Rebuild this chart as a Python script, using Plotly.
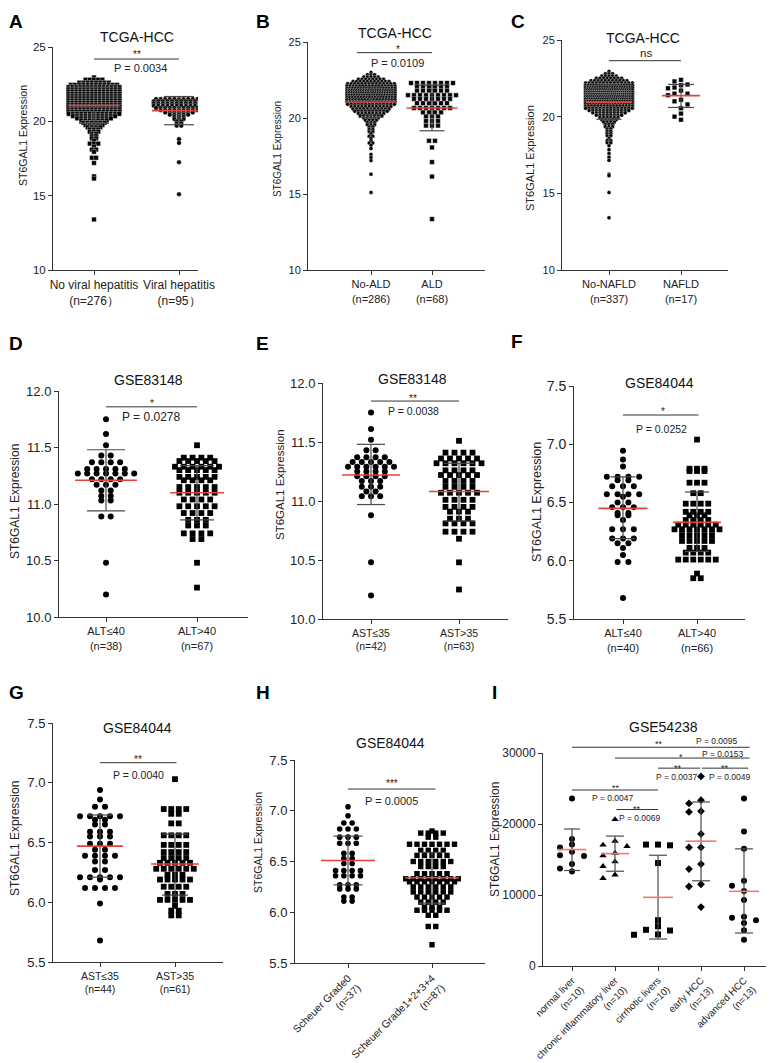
import plotly.graph_objects as go

# Reference canvas is 774x1063; the page adds an 8px body margin, so the figure is
# drawn 8px smaller on each axis and all pixel specs below are shifted by that offset.
W, H = 774, 1063
OX, OY = 8, 8
FW, FH = W - OX, H - OY
FONT = "Liberation Sans, Arial, Helvetica, sans-serif"

# ======================= DATA =======================
# A  TCGA-HCC : viral hepatitis
A_title = "TCGA-HCC"
A_labels = ["No viral hepatitis<br>(n=276）", "Viral hepatitis<br>(n=95）"]
A_g1_levels = [22.95, 22.8, 22.6, 22.45, 22.3, 22.15, 22.0, 21.85, 21.7, 21.55, 21.4, 21.25, 21.1,
               20.95, 20.8, 20.65, 20.5, 20.35, 20.2, 20.05, 19.9, 19.75, 19.6, 19.45, 19.3, 19.15,
               19.0, 18.85, 18.7, 18.5, 18.3, 18.1, 17.95, 17.55, 17.2, 16.3, 16.15, 13.4]
A_g1_counts = [1, 5, 8, 12, 14, 14, 14, 14, 14, 14, 14, 14, 14,
               15, 14, 14, 13, 11, 9, 7, 6, 5, 4, 3, 3, 2,
               2, 2, 1, 3, 1, 2, 1, 2, 1, 1, 1, 1]
A_g2_levels = [21.5, 21.35, 21.2, 21.05, 20.9, 20.75, 20.6, 20.45, 20.3, 20.15, 20.0, 19.85, 19.7,
               18.8, 18.55, 17.25, 15.1]
A_g2_counts = [11, 12, 12, 12, 11, 9, 7, 5, 3, 3, 2, 2, 2, 1, 1, 1, 1]
A_mean = [21.07, 20.72]
A_sd_low = [19.87, 19.77]
A_sd_high = [22.27, 21.67]
A_sig = [("**", "P = 0.0034")]

# B  TCGA-HCC : ALD
B_title = "TCGA-HCC"
B_labels = ["No-ALD<br>(n=286)", "ALD<br>(n=68)"]
B_g1_levels = [23.0, 22.85, 22.7, 22.55, 22.4, 22.25, 22.1, 21.95, 21.8, 21.65, 21.5, 21.35, 21.2,
               21.05, 20.9, 20.75, 20.6, 20.45, 20.3, 20.15, 20.0, 19.85, 19.7, 19.55, 19.4, 19.25,
               19.1, 18.95, 18.8, 18.65, 18.5, 18.35, 18.2, 18.0, 17.6, 17.4, 17.2, 16.3, 15.1]
B_g1_counts = [1, 3, 5, 8, 11, 14, 16, 18, 21, 21, 20, 18, 17,
               16, 14, 12, 11, 10, 8, 7, 5, 4, 3, 3, 2, 2,
               2, 1, 2, 1, 1, 2, 1, 1, 1, 1, 1, 1, 1]
B_g2_levels = [22.3, 22.07, 21.8, 21.5, 21.25, 20.97, 20.66, 20.37, 20.1, 19.8, 19.5, 18.5, 18.06,
               17.1, 16.15, 13.35]
B_g2_counts = [8, 6, 6, 9, 7, 6, 7, 4, 3, 3, 3, 2, 1, 1, 1, 1]
B_mean = [21.05, 20.66]
B_sd_low = [20.05, 19.16]
B_sd_high = [22.05, 22.16]
B_sig = [("*", "P = 0.0109")]

# C  TCGA-HCC : NAFLD
C_title = "TCGA-HCC"
C_labels = ["No-NAFLD<br>(n=337)", "NAFLD<br>(n=17)"]
C_g1_levels = [22.95, 22.8, 22.65, 22.5, 22.35, 22.2, 22.05, 21.9, 21.75, 21.6, 21.45, 21.3, 21.15,
               21.0, 20.85, 20.7, 20.55, 20.4, 20.25, 20.1, 19.95, 19.8, 19.65, 19.5, 19.35, 19.2,
               19.05, 18.9, 18.75, 18.6, 18.45, 18.3, 18.1, 17.85, 17.6, 17.35, 17.15, 16.25, 16.15,
               15.05, 13.4]
C_g1_counts = [1, 3, 5, 8, 11, 14, 18, 20, 23, 24, 24, 23, 22,
               20, 18, 16, 14, 12, 10, 8, 6, 5, 4, 3, 3, 2,
               2, 2, 2, 1, 2, 2, 1, 1, 1, 1, 1, 1, 1,
               1, 1]
C_g2_values = [22.4, 22.3, 22.1, 22.05, 21.9, 21.85, 21.7, 21.5, 21.5, 21.4, 21.1, 21.0, 20.8,
               20.55, 20.2, 20.0, 19.8]
C_mean = [20.95, 21.37]
C_sd_low = [19.83, 20.6]
C_sd_high = [22.07, 22.1]
C_sig = [("ns", "")]

# D  GSE83148 : ALT
D_title = "GSE83148"
D_labels = ["ALT≤40<br>(n=38)", "ALT>40<br>(n=67)"]
D_g1_levels = [11.75, 11.62, 11.52, 11.43, 11.37, 11.31, 11.27, 11.22, 11.17, 11.12, 11.07, 11.03,
               10.89, 10.48, 10.20]
D_g1_counts = [1, 1, 1, 2, 4, 5, 7, 4, 3, 2, 2, 2, 2, 1, 1]
D_g2_levels = [11.52, 11.41, 11.38, 11.33, 11.30, 11.24, 11.21, 11.15, 11.10, 11.04, 10.98, 10.92,
               10.86, 10.81, 10.74, 10.69, 10.48, 10.26]
D_g2_counts = [1, 4, 5, 6, 5, 5, 4, 5, 5, 4, 5, 4, 3, 3, 4, 2, 1, 1]
D_mean = [11.21, 11.10]
D_sd_low = [10.94, 10.86]
D_sd_high = [11.48, 11.34]
D_sig = [("*", "P = 0.0278")]

# E  GSE83148 : AST
E_title = "GSE83148"
E_labels = ["AST≤35<br>(n=42)", "AST>35<br>(n=63)"]
E_g1_levels = [11.75, 11.61, 11.52, 11.43, 11.37, 11.33, 11.29, 11.25, 11.21, 11.17, 11.12, 11.08,
               11.04, 10.88, 10.48, 10.20]
E_g1_counts = [1, 1, 1, 2, 4, 5, 6, 4, 4, 3, 3, 2, 3, 1, 1, 1]
E_g2_levels = [11.51, 11.41, 11.36, 11.32, 11.26, 11.22, 11.17, 11.12, 11.07, 11.01, 10.95, 10.91,
               10.85, 10.81, 10.74, 10.68, 10.48, 10.25]
E_g2_counts = [1, 4, 5, 6, 4, 5, 4, 4, 5, 4, 4, 3, 3, 4, 4, 1, 1, 1]
E_mean = [11.22, 11.08]
E_sd_low = [10.97, 10.83]
E_sd_high = [11.48, 11.32]
E_sig = [("**", "P = 0.0038")]

# F  GSE84044 : ALT
F_title = "GSE84044"
F_labels = ["ALT≤40<br>(n=40)", "ALT>40<br>(n=66)"]
F_g1_levels = [6.945, 6.87, 6.81, 6.72, 6.69, 6.64, 6.57, 6.55, 6.50, 6.46, 6.41, 6.39, 6.35, 6.27,
               6.19, 6.15, 6.11, 6.05, 5.99, 5.68]
F_g1_counts = [1, 1, 1, 4, 2, 3, 4, 1, 2, 3, 2, 2, 1, 3, 3, 2, 1, 1, 2, 1]
F_g2_levels = [7.04, 6.79, 6.77, 6.67, 6.58, 6.49, 6.42, 6.39, 6.35, 6.31, 6.27, 6.22, 6.17, 6.11,
               6.07, 6.01, 5.89, 5.85]
F_g2_counts = [1, 3, 3, 3, 2, 4, 4, 3, 4, 6, 7, 5, 5, 3, 4, 6, 1, 2]
F_mean = [6.45, 6.33]
F_sd_low = [6.19, 6.08]
F_sd_high = [6.72, 6.59]
F_sig = [("*", "P = 0.0252")]

# G  GSE84044 : AST
G_title = "GSE84044"
G_labels = ["AST≤35<br>(n=44)", "AST>35<br>(n=61)"]
G_g1_levels = [6.94, 6.86, 6.80, 6.72, 6.69, 6.65, 6.59, 6.55, 6.49, 6.44, 6.39, 6.34, 6.27, 6.21,
               6.19, 6.12, 5.99, 5.68]
G_g1_counts = [1, 1, 2, 5, 2, 2, 3, 3, 3, 2, 4, 2, 2, 5, 1, 4, 1, 1]
G_g2_levels = [7.03, 6.78, 6.74, 6.66, 6.56, 6.48, 6.42, 6.37, 6.33, 6.28, 6.23, 6.19, 6.13, 6.07,
               6.02, 5.97, 5.93, 5.89]
G_g2_counts = [1, 4, 2, 2, 4, 4, 4, 4, 5, 6, 3, 5, 4, 3, 5, 1, 2, 2]
G_mean = [6.47, 6.32]
G_sd_low = [6.21, 6.06]
G_sd_high = [6.73, 6.57]
G_sig = [("**", "P = 0.0040")]

# H  GSE84044 : Scheuer grade
H_title = "GSE84044"
H_labels = ["Scheuer Grade0<br>(n=37)", "Scheuer Grade1+2+3+4<br>(n=87)"]
H_g1_levels = [7.04, 6.95, 6.88, 6.82, 6.74, 6.68, 6.58, 6.53, 6.48, 6.41, 6.36, 6.27, 6.23, 6.15,
               6.11]
H_g1_counts = [1, 1, 2, 3, 3, 3, 2, 2, 2, 4, 4, 3, 3, 2, 2]
H_g2_levels = [6.80, 6.78, 6.74, 6.67, 6.61, 6.56, 6.50, 6.45, 6.38, 6.33, 6.30, 6.25, 6.20, 6.15,
               6.10, 6.05, 6.02, 5.97, 5.86, 5.68]
H_g2_counts = [1, 4, 2, 7, 4, 5, 6, 4, 5, 8, 7, 6, 6, 5, 4, 3, 5, 2, 2, 1]
H_mean = [6.51, 6.34]
H_sd_low = [6.27, 6.09]
H_sd_high = [6.75, 6.59]
H_sig = [("***", "P = 0.0005")]

# I  GSE54238 : disease stages
I_title = "GSE54238"
I_labels = ["normal liver<br>(n=10)", "chronic inflammatory liver<br>(n=10)",
            "cirrhotic livers<br>(n=10)", "early HCC<br>(n=13)", "advanced HCC<br>(n=13)"]
I_normal = [23600, 17900, 17100, 16700, 16100, 15600, 15500, 14350, 13750, 13300]
I_chronic = [20650, 17600, 17050, 16850, 15900, 15550, 14700, 14050, 12850, 12350]
I_cirrhotic = [17100, 17100, 17000, 14500, 6450, 5600, 5100, 5000, 4450, 4400]
I_early = [26700, 23350, 22900, 21800, 21700, 18600, 16700, 16700, 14350, 13650, 11500, 11200, 8300]
I_advanced = [23600, 18950, 16500, 12000, 11300, 10570, 9290, 6920, 6780, 6450, 6070, 5020, 3700]
I_mean = [16400, 15830, 9670, 17580, 10520]
I_sd_low = [13450, 13350, 3800, 12000, 4650]
I_sd_high = [19300, 18300, 15600, 23100, 16500]
I_sig = [("**", "P = 0.0095"), ("*", "P = 0.0153"), ("**", "P = 0.0037"), ("**", "P = 0.0049"),
         ("**", "P = 0.0047"), ("**", "P = 0.0069")]

Y_TITLE = "ST6GAL1 Expression"

# ======================= STYLE / LAYOUT (pixel specs in reference coordinates) =======================
panels = [
    dict(key="A", title=A_title, labels=A_labels,
         groups=[("rows", A_g1_levels, A_g1_counts), ("rows", A_g2_levels, A_g2_counts)],
         mean=A_mean, lo=A_sd_low, hi=A_sd_high, sig=A_sig,
         L=53, R=198, T=47, B=270, cats=[94, 179], yr=(10, 25), yt=[10, 15, 20, 25], yfmt="{:.0f}",
         sym=["square", "circle"], ms=[4.6, 4.6], step=[4.2, 4.6], half=[25.5, 26.5], outline=True,
         mhw=[25.5, 27], chw=[15, 15], tickfs=11.5, labfs=12, ytfs=10.5, titlexy=(137, 37),
         ytitlexy=(23, 136), letter=("A", 2, 21), angle=0,
         sigpos=[(0, 1, 24.19, 0.5, 5, 0.55, -8.5)], starfs=10, pfs=11),
    dict(key="B", title=B_title, labels=B_labels,
         groups=[("rows", B_g1_levels, B_g1_counts), ("rows", B_g2_levels, B_g2_counts)],
         mean=B_mean, lo=B_sd_low, hi=B_sd_high, sig=B_sig,
         L=308, R=485, T=42, B=270, cats=[371, 432], yr=(10, 25), yt=[10, 15, 20, 25], yfmt="{:.0f}",
         sym=["circle", "square"], ms=[4.0, 4.6], step=[3.6, 6.0], half=[24, 25], outline=True,
         mhw=[25, 25.5], chw=[12.5, 12.5], tickfs=11, labfs=11, ytfs=10, titlexy=(395, 33),
         ytitlexy=(278, 149), letter=("B", 255, 21), angle=0,
         sigpos=[(-0.23, 1, 24.3, 0.44, 3, 0.44, -10)], starfs=10, pfs=11),
    dict(key="C", title=C_title, labels=C_labels,
         groups=[("rows", C_g1_levels, C_g1_counts), ("swarm", C_g2_values)],
         mean=C_mean, lo=C_sd_low, hi=C_sd_high, sig=C_sig,
         L=562, R=728, T=40, B=270, cats=[609, 681], yr=(10, 25), yt=[10, 15, 20, 25], yfmt="{:.0f}",
         sym=["circle", "square"], ms=[4.0, 4.6], step=[3.6, 6.0], half=[23.5, 14], outline=True,
         swarm_d=6.5, swarm_r=5.0,
         mhw=[23, 19], chw=[12.5, 13], tickfs=11, labfs=11, ytfs=11, titlexy=(643, 38),
         ytitlexy=(530, 158), letter=("C", 510, 21), angle=0,
         sigpos=[(0, 1, 23.65, 0.52, 8, 0.52, 0)], starfs=11.5, pfs=11),
    dict(key="D", title=D_title, labels=D_labels,
         groups=[("rows", D_g1_levels, D_g1_counts), ("rows", D_g2_levels, D_g2_counts)],
         mean=D_mean, lo=D_sd_low, hi=D_sd_high, sig=D_sig,
         L=59, R=248, T=391, B=617, cats=[106, 197], yr=(10, 12),
         yt=[10.0, 10.5, 11.0, 11.5, 12.0], yfmt="{:.1f}",
         sym=["circle", "square"], ms=[6, 5.8], step=[9.4, 8.8], half=[40, 40], outline=False,
         mhw=[31, 27], chw=[19, 17], tickfs=13, labfs=11, ytfs=12, titlexy=(148, 380),
         ytitlexy=(15, 502), letter=("D", 2, 344), angle=0,
         sigpos=[(0, 1, 11.86, 0.51, 3.5, 0.49, -10)], starfs=10, pfs=12),
    dict(key="E", title=E_title, labels=E_labels,
         groups=[("rows", E_g1_levels, E_g1_counts), ("rows", E_g2_levels, E_g2_counts)],
         mean=E_mean, lo=E_sd_low, hi=E_sd_high, sig=E_sig,
         L=323, R=508, T=383, B=619, cats=[371, 459], yr=(10, 12),
         yt=[10.0, 10.5, 11.0, 11.5, 12.0], yfmt="{:.1f}",
         sym=["circle", "square"], ms=[6, 5.8], step=[9.2, 9.0], half=[40, 40], outline=False,
         mhw=[29, 30], chw=[14, 15], tickfs=13, labfs=10.5, ytfs=11.5, titlexy=(412, 379),
         ytitlexy=(280, 485), letter=("E", 255, 344), angle=0,
         sigpos=[(0, 1, 11.847, 0.48, 3, 0.48, -9.5)], starfs=10, pfs=10.5),
    dict(key="F", title=F_title, labels=F_labels,
         groups=[("rows", F_g1_levels, F_g1_counts), ("rows", F_g2_levels, F_g2_counts)],
         mean=F_mean, lo=F_sd_low, hi=F_sd_high, sig=F_sig,
         L=574, R=745, T=386, B=619, cats=[623, 697], yr=(5.5, 7.5),
         yt=[5.5, 6.0, 6.5, 7.0, 7.5], yfmt="{:.1f}",
         sym=["circle", "square"], ms=[6, 5.8], step=[10.8, 7.5], half=[40, 40], outline=False,
         mhw=[24.5, 24], chw=[12.5, 12], tickfs=14, labfs=11, ytfs=12.5, titlexy=(659, 383),
         ytitlexy=(537, 502), letter=("F", 510, 341), angle=0,
         sigpos=[(0, 1.02, 7.251, 0.54, 3.5, 0.52, -14)], starfs=10, pfs=10.5),
    dict(key="G", title=G_title, labels=G_labels,
         groups=[("rows", G_g1_levels, G_g1_counts), ("rows", G_g2_levels, G_g2_counts)],
         mean=G_mean, lo=G_sd_low, hi=G_sd_high, sig=G_sig,
         L=53, R=223, T=723, B=962, cats=[100, 175], yr=(5.5, 7.5),
         yt=[5.5, 6.0, 6.5, 7.0, 7.5], yfmt="{:.1f}",
         sym=["circle", "square"], ms=[6, 5.8], step=[10.0, 7.5], half=[40, 40], outline=False,
         mhw=[23, 24], chw=[12.5, 13], tickfs=13, labfs=10.5, ytfs=12, titlexy=(137, 728),
         ytitlexy=(15, 839), letter=("G", 2, 692), angle=0,
         sigpos=[(0, 1.02, 7.168, 0.51, 3, 0.51, -12)], starfs=10, pfs=10.5),
    dict(key="H", title=H_title, labels=H_labels,
         groups=[("rows", H_g1_levels, H_g1_counts), ("rows", H_g2_levels, H_g2_counts)],
         mean=H_mean, lo=H_sd_low, hi=H_sd_high, sig=H_sig,
         L=295, R=485, T=760, B=963, cats=[348, 432], yr=(5.5, 7.5),
         yt=[5.5, 6.0, 6.5, 7.0, 7.5], yfmt="{:.1f}",
         sym=["circle", "square"], ms=[5.6, 5.4], step=[8.3, 7.5], half=[40, 40], outline=False,
         mhw=[27, 27], chw=[14.5, 14], tickfs=13, labfs=10.5, ytfs=10.5, titlexy=(390, 743),
         ytitlexy=(258, 843), letter=("H", 255, 692), angle=-45,
         sigpos=[(0, 1.04, 7.214, 0.52, 6, 0.52, -12)], starfs=10, pfs=11),
    dict(key="I", title=I_title, labels=I_labels,
         groups=[("swarm", I_normal), ("swarm", I_chronic), ("swarm", I_cirrhotic),
                 ("swarm", I_early), ("swarm", I_advanced)],
         mean=I_mean, lo=I_sd_low, hi=I_sd_high, sig=I_sig,
         L=543, R=773, T=753, B=966, cats=[572, 615, 658, 701, 744], yr=(0, 30000),
         yt=[0, 10000, 20000, 30000], yfmt="{:.0f}",
         sym=["circle", "triangle-up", "square", "diamond", "circle"], ms=[6, 6.5, 6, 6, 6],
         step=[12] * 5, half=[30] * 5, outline=False, swarm_d=12, swarm_r=5.5,
         mhw=[14.5, 14, 15, 15.5, 15], chw=[8, 9, 9, 9, 9], tickfs=12, labfs=9.8, ytfs=12,
         titlexy=(663, 727), ytitlexy=(495, 840), letter=("I", 491, 692), angle=-45,
         sigpos=[(0, 4.13, 30806, 2.02, 3, 3.37, 6), (1, 4.13, 29289, 2.53, 1, 3.51, 4),
                 (2, 2.98, 27867, 2.47, 0, 2.42, -9), (3.02, 4.1, 27867, 3.56, 0, 3.67, -9),
                 (0, 2, 24787, 1.02, 2, 0.95, -7.5), (1.03, 2, 22038, 1.5, 0.5, 1.56, -8)],
         starfs=9, pfs=8.5, red="#f07a70"),
]


def px_x(px):
    return max(0.0, (px - OX) / FW)


def px_y(py_):
    return 1 - (py_ - OY) / FH


def rows_layout(levels, counts, step_px, half_px, s):
    xs, ys = [], []
    for v, n in zip(levels, counts):
        sp = step_px if n < 2 else min(step_px, 2.0 * half_px / (n - 1))
        for k in range(n):
            xs.append((k - (n - 1) / 2.0) * sp / s)
            ys.append(v)
    return xs, ys


def swarm_layout(values, d_px, r_px, s, py):
    order = sorted(range(len(values)), key=lambda i: -values[i])
    cand = [0]
    for k in range(1, 40):
        cand += [-k, k]
    placed, xs = [], [0.0] * len(values)
    for i in order:
        y = values[i] * py
        chosen = 0.0
        for k in cand:
            x = k * d_px
            if all((x - a) ** 2 + (y - b) ** 2 >= r_px ** 2 for a, b in placed):
                chosen = x
                break
        placed.append((chosen, y))
        xs[i] = chosen / s
    return xs, list(values)


fig = go.Figure()
annotations = []
shapes = []

for idx, p in enumerate(panels, start=1):
    sfx = "" if idx == 1 else str(idx)
    xa, ya = "x" + sfx, "y" + sfx
    cats = p["cats"]
    n = len(cats)
    s = (cats[-1] - cats[0]) / (n - 1)          # px per category
    y0, y1 = p["yr"]
    py = (p["B"] - p["T"]) / (y1 - y0)           # px per y unit
    xr = [(p["L"] - cats[0]) / s, (p["R"] - cats[0]) / s]

    def xpap(xc, cats=cats, s=s):
        return px_x(cats[0] + xc * s)

    def ypap(v, p=p, y0=y0, py=py):
        return px_y(p["B"] - (v - y0) * py)

    # ---- points ----
    for g, grp in enumerate(p["groups"]):
        if grp[0] == "rows":
            xs, ys = rows_layout(grp[1], grp[2], p["step"][g], p["half"][g], s)
        else:
            xs, ys = swarm_layout(grp[1], p.get("swarm_d", 8), p.get("swarm_r", 6), s, py)
        xs = [g + x for x in xs]
        fig.add_trace(go.Scatter(
            x=xs, y=ys, mode="markers", xaxis=xa, yaxis=ya, hoverinfo="skip",
            marker=dict(symbol=p["sym"][g], size=p["ms"][g], color="#000000",
                        line=dict(color="white", width=0.35 if p["outline"] else 0)),
        ))

    # ---- SD bars ----
    ex, ey = [], []
    for g in range(n):
        cw = p["chw"][g] / s
        ex += [g, g, None, g - cw, g + cw, None, g - cw, g + cw, None]
        ey += [p["lo"][g], p["hi"][g], None, p["lo"][g], p["lo"][g], None, p["hi"][g], p["hi"][g], None]
    fig.add_trace(go.Scatter(x=ex, y=ey, mode="lines", xaxis=xa, yaxis=ya, hoverinfo="skip",
                             line=dict(color="#4a4a4a", width=1.2)))
    # ---- mean lines ----
    mx, my = [], []
    for g in range(n):
        hw = p["mhw"][g] / s
        mx += [g - hw, g + hw, None]
        my += [p["mean"][g], p["mean"][g], None]
    fig.add_trace(go.Scatter(x=mx, y=my, mode="lines", xaxis=xa, yaxis=ya, hoverinfo="skip",
                             line=dict(color=p.get("red", "#e8403a"), width=1.6)))

    # ---- axes ----
    fig.update_layout(**{
        ("xaxis" + sfx): dict(
            domain=[px_x(p["L"]), min(1.0, px_x(p["R"]))], range=xr, anchor=ya, automargin=False,
            tickvals=list(range(n)), ticktext=p["labels"], tickangle=p["angle"],
            showline=True, linecolor="#333", linewidth=1, ticks="outside", ticklen=4,
            tickcolor="#333", showgrid=False, zeroline=False, fixedrange=True,
            tickfont=dict(size=p["labfs"], color="#222", family=FONT)),
        ("yaxis" + sfx): dict(
            domain=[px_y(p["B"]), px_y(p["T"])], range=[y0, y1], anchor=xa, automargin=False,
            tickvals=p["yt"], ticktext=[p["yfmt"].format(v) for v in p["yt"]],
            showline=True, linecolor="#333", linewidth=1, ticks="outside", ticklen=4,
            tickcolor="#333", showgrid=False, zeroline=False, fixedrange=True,
            tickfont=dict(size=p["tickfs"], color="#222", family=FONT)),
    })

    # ---- titles / labels ----
    tx, ty = p["titlexy"]
    annotations.append(dict(x=px_x(tx), y=px_y(ty), xref="paper", yref="paper", text=p["title"],
                            showarrow=False, xanchor="center", yanchor="middle",
                            font=dict(size=14, color="#111", family=FONT)))
    yx, yy = p["ytitlexy"]
    annotations.append(dict(x=px_x(yx), y=px_y(yy), xref="paper", yref="paper", text=Y_TITLE,
                            textangle=-90, showarrow=False, xanchor="center", yanchor="middle",
                            font=dict(size=p["ytfs"], color="#222", family=FONT)))
    lt, lx, ly = p["letter"]
    annotations.append(dict(x=px_x(lx), y=px_y(ly), xref="paper", yref="paper", text="<b>%s</b>" % lt,
                            showarrow=False, xanchor="left", yanchor="middle", borderpad=0,
                            font=dict(size=19, color="#000", family=FONT)))

    # ---- significance bars ----
    for (star, ptxt), (bx0, bx1, by, sx, sdy, px_, pdy) in zip(p["sig"], p["sigpos"]):
        shapes.append(dict(type="line", xref="paper", yref="paper",
                           x0=xpap(bx0), x1=xpap(bx1), y0=ypap(by), y1=ypap(by),
                           line=dict(color="#333", width=1)))
        annotations.append(dict(x=xpap(sx), y=ypap(by) + sdy / FH, xref="paper", yref="paper",
                                text=star, showarrow=False, xanchor="center", yanchor="middle",
                                font=dict(size=p["starfs"], color="#222", family=FONT)))
        if ptxt:
            annotations.append(dict(x=xpap(px_), y=ypap(by) + pdy / FH, xref="paper", yref="paper",
                                    text=ptxt, showarrow=False, xanchor="center", yanchor="middle",
                                    font=dict(size=p["pfs"], color="#222", family=FONT)))

fig.update_layout(width=FW, height=FH, margin=dict(l=0, r=0, t=0, b=0, autoexpand=False),
                  paper_bgcolor="white", plot_bgcolor="white", showlegend=False,
                  font=dict(family=FONT, color="#222"),
                  annotations=annotations, shapes=shapes)

fig.write_html("out.html")
